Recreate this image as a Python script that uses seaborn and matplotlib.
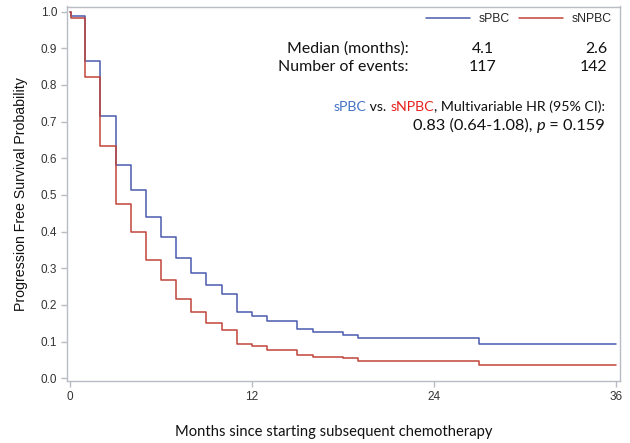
import numpy as np
import pandas as pd
import matplotlib
matplotlib.use("Agg")
import matplotlib.pyplot as plt
import seaborn as sns
from matplotlib.lines import Line2D

# ---- data ----
months = [0, 0.05, 1, 2, 3, 4, 5, 6, 7, 8, 9, 10, 11, 12, 13, 15, 16, 18, 19, 27, 36]
spbc = [1.0, 0.988, 0.866, 0.716, 0.583, 0.514, 0.439, 0.384, 0.329, 0.288, 0.254,
        0.230, 0.182, 0.170, 0.156, 0.135, 0.127, 0.119, 0.109, 0.093, 0.093]
snpbc = [1.0, 0.982, 0.823, 0.634, 0.475, 0.400, 0.323, 0.268, 0.217, 0.180, 0.150,
         0.133, 0.094, 0.088, 0.076, 0.064, 0.058, 0.054, 0.048, 0.037, 0.037]
groups = ["sPBC", "sNPBC"]
x_ticks = [0, 12, 24, 36]
y_ticks = [0.0, 0.1, 0.2, 0.3, 0.4, 0.5, 0.6, 0.7, 0.8, 0.9, 1.0]
median = ["4.1", "2.6"]
events = ["117", "142"]

df = pd.concat([
    pd.DataFrame({"Months": months, "Survival": spbc, "Group": groups[0]}),
    pd.DataFrame({"Months": months, "Survival": snpbc, "Group": groups[1]}),
])

BLUE = "#4A5AAE"
RED = "#C0443A"
BLUE_T = "#4472C4"
RED_T = "#E8201E"
GRID = "#B8BCC4"

sns.set_theme(style="white")
plt.rcParams["font.family"] = ["Liberation Sans", "DejaVu Sans"]

fig = plt.figure(figsize=(6.3, 4.43), dpi=100)
ax = fig.add_axes([67 / 630, 1 - 381 / 443, (620 - 67) / 630, (381 - 6.5) / 443])

sns.lineplot(data=df, x="Months", y="Survival", hue="Group", palette=[BLUE, RED],
             drawstyle="steps-post", linewidth=1.1, legend=False, ax=ax,
             estimator=None, sort=False)

ax.set_xlim(-0.2, 36.28)
ax.set_ylim(-0.0074, 1.014)
ax.set_xticks(x_ticks)
ax.set_yticks(y_ticks)
ax.set_yticklabels([f"{v:.1f}" for v in y_ticks])
for s in ax.spines.values():
    s.set_color(GRID)
    s.set_linewidth(1.0)
ax.tick_params(axis="both", which="major", length=4, width=1, color=GRID,
               labelsize=8.5, labelcolor="#333333", direction="out", pad=3,
               bottom=True, left=True)
ax.set_xlabel("Months since starting subsequent chemotherapy", family=["Lato", "DejaVu Sans"],
              fontsize=10.6, color="#111111", va="center")
ax.xaxis.set_label_coords(0.483, -0.137)
ax.set_ylabel("Progression Free Survival Probability", fontsize=10.2, color="#111111",
              labelpad=9)

# legend
handles = [Line2D([0], [0], color=BLUE, lw=1.1), Line2D([0], [0], color=RED, lw=1.1)]
ax.legend(handles, groups, loc="upper right", ncol=2, frameon=False, fontsize=8.8,
          handlelength=3.6, handletextpad=0.65, columnspacing=0.8,
          bbox_to_anchor=(1.0, 1.005), borderaxespad=0.3)

# summary text (pixel-based via figure coords)
def fx(px):
    return px / 630

def fy(py):
    return 1 - py / 443

tf = dict(family=["Lato", "DejaVu Sans"], fontsize=11.4, color="#111111", va="center")
fig.text(fx(409), fy(49), "Median (months):", ha="right", **tf)
fig.text(fx(409), fy(67), "Number of events:", ha="right", **tf)
fig.text(fx(483), fy(49), median[0], ha="center", **tf)
fig.text(fx(483), fy(67), events[0], ha="center", **tf)
fig.text(fx(607), fy(49), median[1], ha="right", **tf)
fig.text(fx(607), fy(67), events[1], ha="right", **tf)

# colored HR line, right aligned
renderer = fig.canvas.get_renderer()
def right_aligned(pieces, right_px, y_px, size):
    objs = []
    for txt, col, style in pieces:
        t = fig.text(0, fy(y_px), txt, ha="left", color=col, style=style,
                     family=["Lato", "DejaVu Sans"], fontsize=size, va="center")
        objs.append(t)
    widths = [o.get_window_extent(renderer=renderer).width for o in objs]
    x = right_px - sum(widths)
    for o, w in zip(objs, widths):
        o.set_x(fx(x))
        x += w

right_aligned([("sPBC", BLUE_T, "normal"), (" vs. ", "#111111", "normal"),
               ("sNPBC", RED_T, "normal"),
               (", Multivariable HR (95% CI):", "#111111", "normal")], 605, 107, 10.2)
right_aligned([("0.83 (0.64-1.08), ", "#111111", "normal"), ("p", "#111111", "italic"),
               (" = 0.159", "#111111", "normal")], 605, 126, 11.8)

fig.savefig("out.png", dpi=100)
